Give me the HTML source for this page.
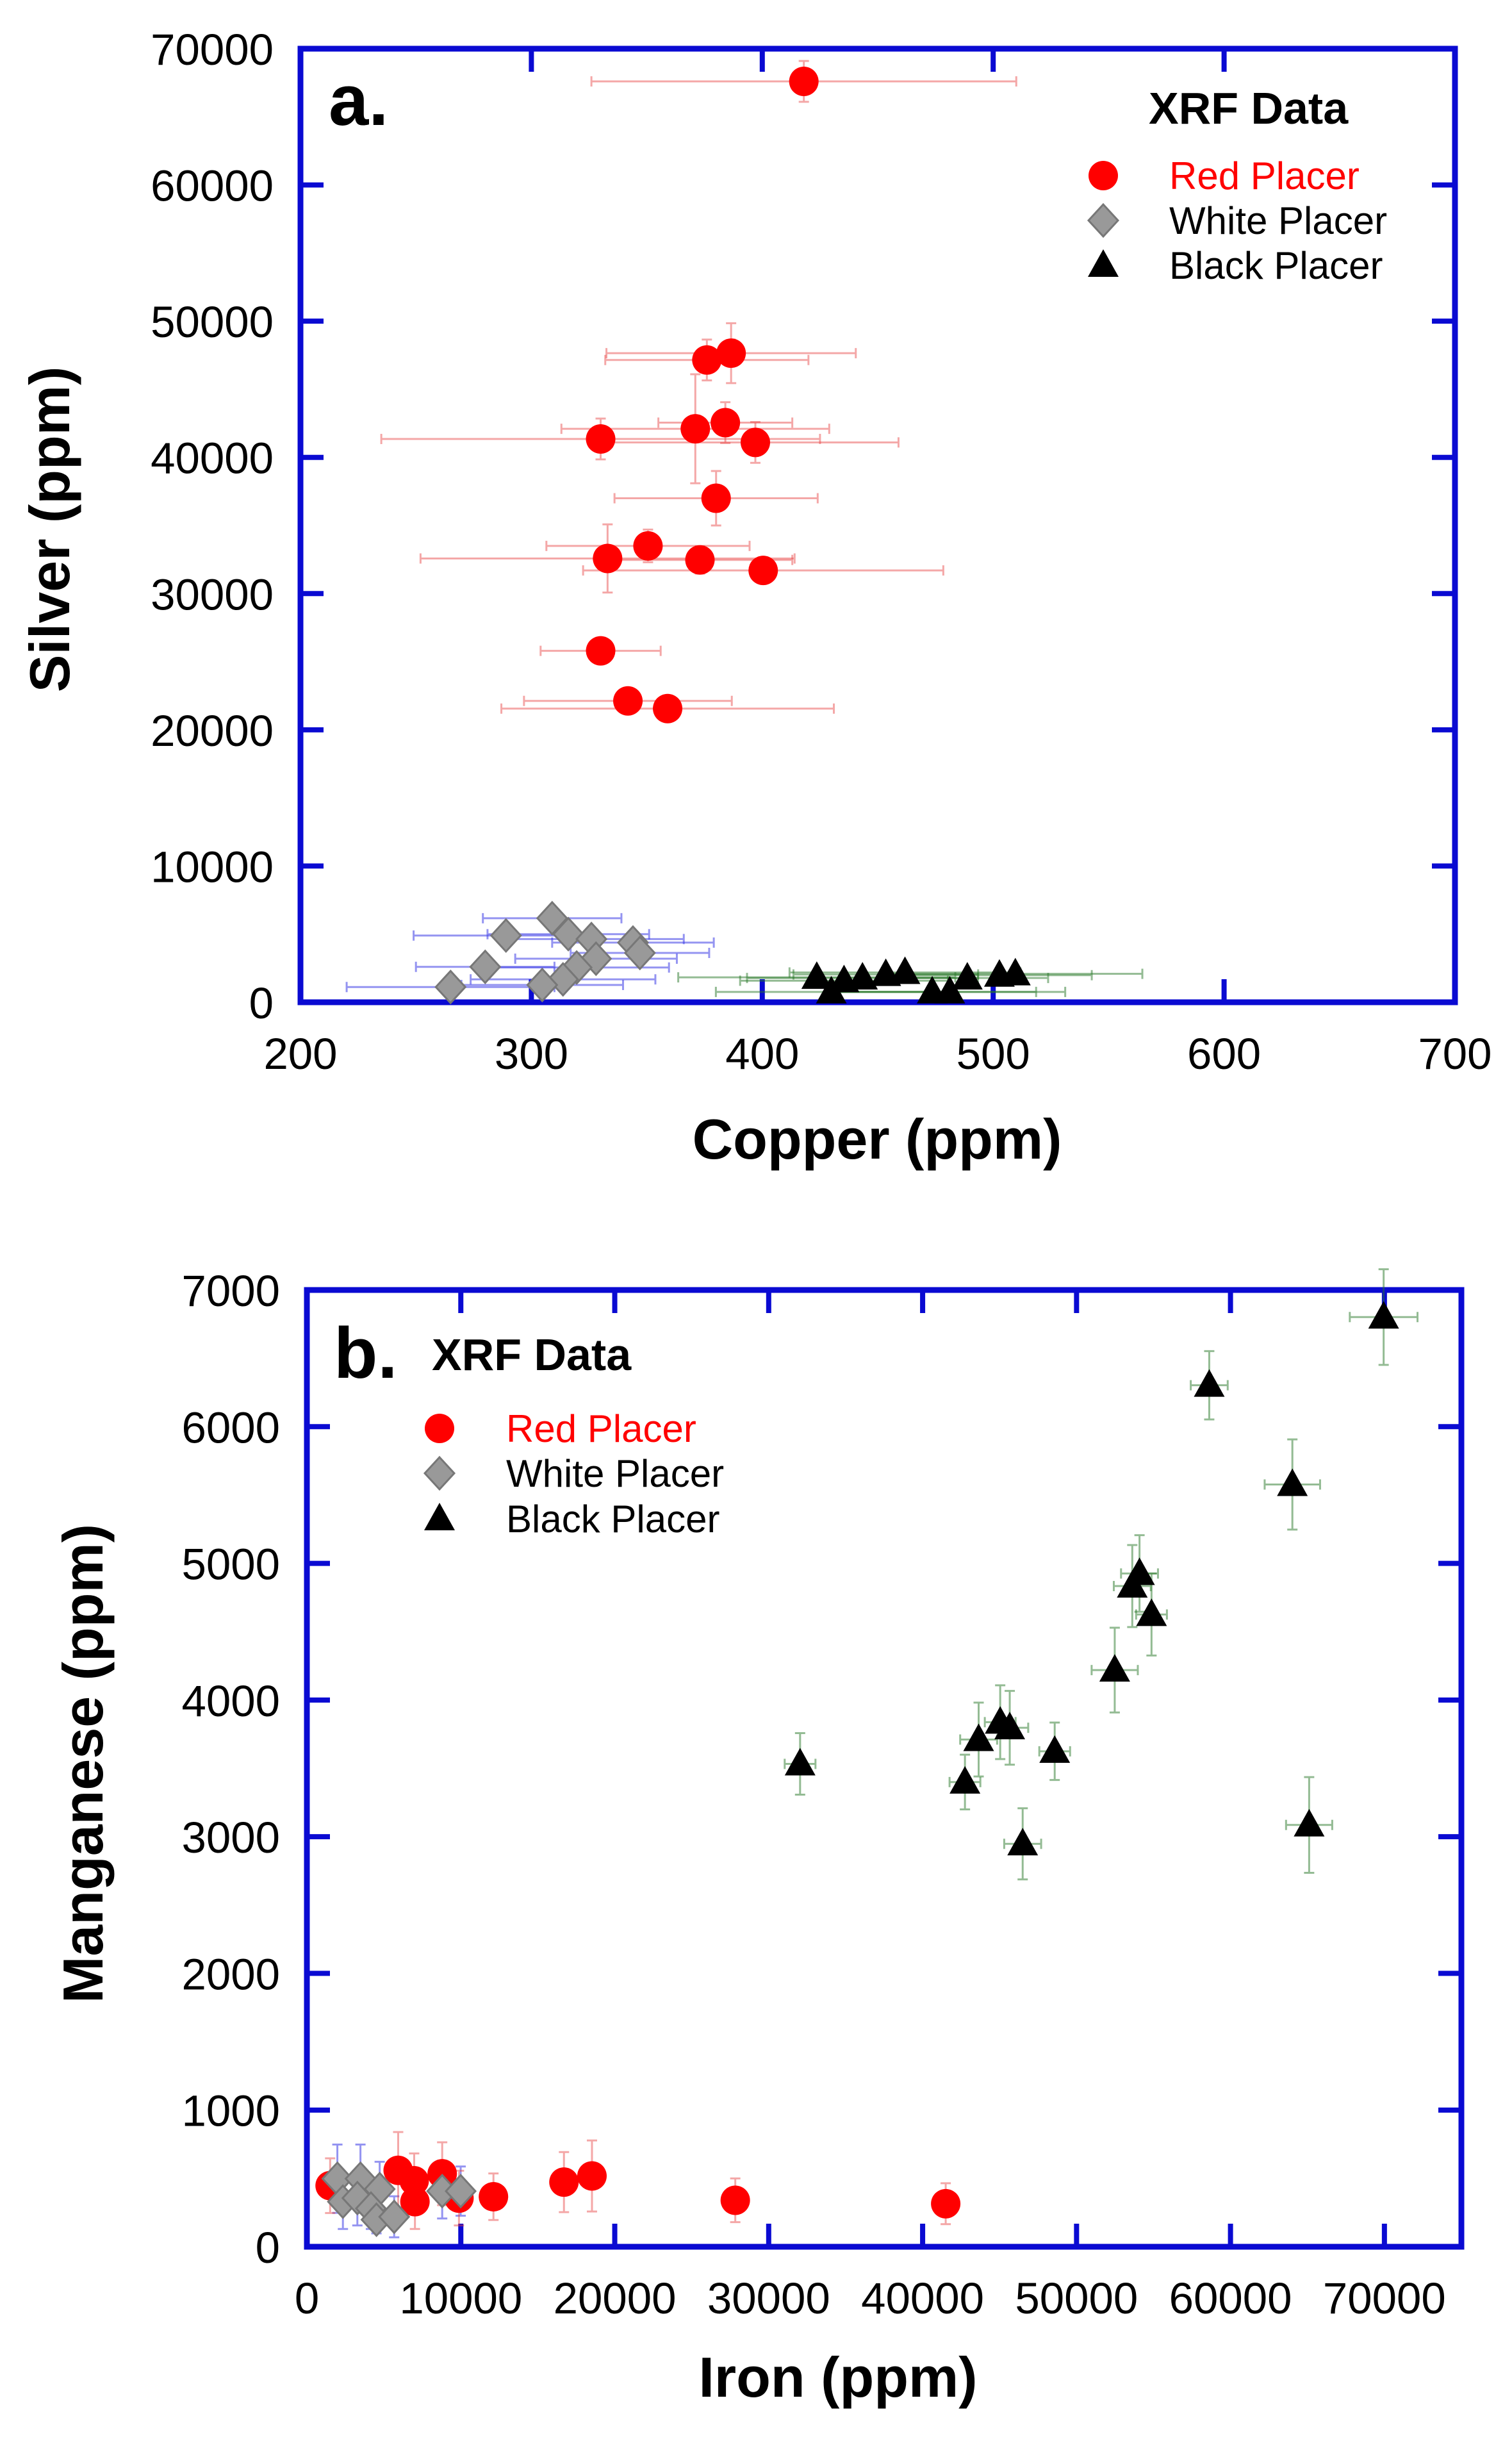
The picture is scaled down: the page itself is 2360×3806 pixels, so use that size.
<!DOCTYPE html>
<html><head><meta charset="utf-8"><style>
html,body{margin:0;padding:0;background:#fff;}
svg{display:block;font-family:"Liberation Sans",sans-serif;}
</style></head><body>
<svg id="fig" width="2360" height="3806" viewBox="0 0 2360 3806" xmlns="http://www.w3.org/2000/svg">
<g id="pa"></g>
<g id="pb"></g>
</svg>
<script>
// Panel a data: copper (x), silver (y)
const aRedCu=[418,376,386.5,371,384,330,397,380,350.5,333,373,400.4,330,341.8,359];
const aRedAg=[67600,47150,47650,42100,42550,41350,41100,37000,33500,32580,32470,31700,25800,22120,21560];
const aRedXe=[92,44,54,58,29,95,62,44,44,81,40,78,26,45,72];
const aRedYe=[1500,1500,2200,4000,1500,1500,1500,2000,1200,2500,1000,800,600,600,600];
const aWhtCu=[309,289,316,326,344,347,328,319.6,280,313.7,304.7,265];
const aWhtAg=[6170,4900,5000,4640,4380,3620,3200,2550,2600,1680,1270,1120];
const aWhtXe=[30,40,35,40,35,30,35,40,30,40,35,45];
const aBlkCu=[423.6,435.4,443.4,453.5,461.8,488.8,502.7,509.6,429.9,473.6,481.2];
const aBlkAg=[1830,1580,1780,2040,2190,1780,1990,2090,760,760,760];
const aBlkXe=[60,45,50,40,50,35,40,55,50,45,50];
const aXTicks=[200,300,400,500,600,700];
const aYTicks=[0,10000,20000,30000,40000,50000,60000,70000];
// Panel b data: iron (x), manganese (y)
const bBlkFe=[32040,42750,43640,45040,45660,46500,48580,52480,53620,54090,54870,58620,64020,65110,69950];
const bBlkMn=[3533,3400,3711,3838,3797,2948,3625,4219,4834,4926,4626,6303,5577,3086,6802];
const bBlkYe=[225,200,270,270,270,260,210,310,300,280,300,250,330,350,350];
const bBlkXe=[1000,1000,1200,1000,1200,1200,1000,1500,1200,1200,1000,1200,1800,1500,2200];
const bRedFe=[1510,5930,6970,7020,8790,9880,12120,16700,18520,27830,41500];
const bRedMn=[447,559,483,330,534,356,366,473,518,340,315];
const bRedYe=[200,280,200,200,230,200,170,220,260,160,150];
const bWhtFe=[1980,2340,3480,3280,4730,4160,4520,5670,8790,9990];
const bWhtMn=[498,330,498,356,422,280,198,219,407,407];
const bWhtYe=[250,200,250,200,200,150,100,150,200,180];
const bXTicks=[0,10000,20000,30000,40000,50000,60000,70000];
const bYTicks=[0,1000,2000,3000,4000,5000,6000,7000];

const NS="http://www.w3.org/2000/svg";
function mk(parent,tag,attrs,text){const e=document.createElementNS(NS,tag);for(const k in attrs)e.setAttribute(k,attrs[k]);if(text!==undefined)e.textContent=text;parent.appendChild(e);return e;}

const A={L:469,R:2271,T:76,B:1564,x0:200,x1:700,y0:0,y1:70000};
const Bp={L:479,R:2281,T:2013,B:3506,x0:0,x1:75000,y0:0,y1:7000};
function sx(P,v){return P.L+(v-P.x0)/(P.x1-P.x0)*(P.R-P.L);}
function sy(P,v){return P.B-(v-P.y0)/(P.y1-P.y0)*(P.B-P.T);}
const BLUE="#0a0ad2";

function axes(g,P,xt,yt,xlabY,xtitle,ytitle,ytx,yty,xtx,xty){
  const frame=mk(g,'rect',{x:P.L,y:P.T,width:P.R-P.L,height:P.B-P.T,fill:'none',stroke:BLUE,'stroke-width':9});
  
  
  xt.forEach(v=>{const x=sx(P,v);
    const t1=mk(g,'line',{x1:x,x2:x,y1:P.B,y2:P.B-36,stroke:BLUE,'stroke-width':8});
    
    
    const t2=mk(g,'line',{x1:x,x2:x,y1:P.T,y2:P.T+36,stroke:BLUE,'stroke-width':8});
    
    
    const lb=mk(g,'text',{x:x,y:xlabY,'font-size':69,'text-anchor':'middle',fill:'#000'},String(v));
    
    
  });
  yt.forEach(v=>{const y=sy(P,v);
    const t1=mk(g,'line',{x1:P.L,x2:P.L+36,y1:y,y2:y,stroke:BLUE,'stroke-width':8});
    
    
    const t2=mk(g,'line',{x1:P.R,x2:P.R-36,y1:y,y2:y,stroke:BLUE,'stroke-width':8});
    
    
    const lb=mk(g,'text',{x:P.L-42,y:y+25,'font-size':69,'text-anchor':'end',fill:'#000'},String(v));
    
    
  });
  const xtl=mk(g,'text',{x:xtx,y:xty,'font-size':88,'font-weight':'bold','text-anchor':'middle'},xtitle);
  
  
  const ytl=mk(g,'text',{x:0,y:0,'font-size':88,'font-weight':'bold','text-anchor':'middle',transform:`translate(${ytx},${yty}) rotate(-90)`},ytitle);
  
  
}
function errX(g,P,x,y,e,col){const c=8;
  const l=mk(g,'path',{d:`M${sx(P,x-e)},${sy(P,y)}H${sx(P,x+e)}M${sx(P,x-e)},${sy(P,y)-c}v${2*c}M${sx(P,x+e)},${sy(P,y)-c}v${2*c}`,stroke:col,'stroke-width':3,fill:'none'});
  
  }
function errY(g,P,x,y,e,col){const c=8;
  const l=mk(g,'path',{d:`M${sx(P,x)},${sy(P,y-e)}V${sy(P,y+e)}M${sx(P,x)-c},${sy(P,y-e)}h${2*c}M${sx(P,x)-c},${sy(P,y+e)}h${2*c}`,stroke:col,'stroke-width':3,fill:'none'});
  
  }
function circ(g,cx,cy,name){const e=mk(g,'circle',{cx:cx,cy:cy,r:23,fill:'#ff0000'});
  
  return e;}
function dia(g,cx,cy,name){const e=mk(g,'path',{d:`M${cx},${cy-25}L${cx+23},${cy}L${cx},${cy+25}L${cx-23},${cy}Z`,fill:'#999',stroke:'#777','stroke-width':3});
  
  return e;}
function tri(g,cx,cy,name){const e=mk(g,'path',{d:`M${cx},${cy-25}L${cx+24},${cy+18}L${cx-24},${cy+18}Z`,fill:'#000'});
  
  return e;}
function legend(g,mx,tx,ys,fs){
  circ(g,mx,ys[0],'legend-red-marker');
  dia(g,mx,ys[1],'legend-white-marker');
  tri(g,mx,ys[2],'legend-black-marker');
  const t1=mk(g,'text',{x:tx,y:ys[0]+21,'font-size':fs,fill:'#ff0000'},'Red Placer');
  
  
  const t2=mk(g,'text',{x:tx,y:ys[1]+21,'font-size':fs,fill:'#000'},'White Placer');
  
  
  const t3=mk(g,'text',{x:tx,y:ys[2]+21,'font-size':fs,fill:'#000'},'Black Placer');
  
  
}

// Panel a
const ga=document.getElementById('pa');
axes(ga,A,aXTicks,aYTicks,1668,'Copper (ppm)','Silver (ppm)',108,826,1369,1808);
aWhtCu.forEach((v,i)=>errX(ga,A,v,aWhtAg[i],aWhtXe[i],'rgba(60,60,230,0.55)'));
aBlkCu.forEach((v,i)=>errX(ga,A,v,aBlkAg[i],aBlkXe[i],'rgba(40,120,40,0.5)'));
aRedCu.forEach((v,i)=>{errX(ga,A,v,aRedAg[i],aRedXe[i],'rgba(230,60,60,0.45)');errY(ga,A,v,aRedAg[i],aRedYe[i],'rgba(230,60,60,0.45)');});
aRedCu.forEach((v,i)=>circ(ga,sx(A,v),sy(A,aRedAg[i]),'red-placer-point'));
aWhtCu.forEach((v,i)=>dia(ga,sx(A,v),sy(A,aWhtAg[i]),'white-placer-point'));
aBlkCu.forEach((v,i)=>tri(ga,sx(A,v),sy(A,aBlkAg[i]),'black-placer-point'));
const la=mk(ga,'text',{x:513,y:195,'font-size':112,'font-weight':'bold'},'a.');


const xa=mk(ga,'text',{x:1793,y:193,'font-size':70,'font-weight':'bold'},'XRF Data');


legend(ga,1722,1825,[274,344,414],60);

// Panel b
const gb=document.getElementById('pb');
axes(gb,Bp,bXTicks,bYTicks,3610,'Iron (ppm)','Manganese (ppm)',160,2752,1308,3740);
bWhtFe.forEach((v,i)=>errY(gb,Bp,v,bWhtMn[i],bWhtYe[i],'rgba(60,60,230,0.55)'));
bRedFe.forEach((v,i)=>errY(gb,Bp,v,bRedMn[i],bRedYe[i],'rgba(230,60,60,0.45)'));
bBlkFe.forEach((v,i)=>{errX(gb,Bp,v,bBlkMn[i],bBlkXe[i],'rgba(40,120,40,0.5)');errY(gb,Bp,v,bBlkMn[i],bBlkYe[i],'rgba(40,120,40,0.5)');});
bRedFe.forEach((v,i)=>circ(gb,sx(Bp,v),sy(Bp,bRedMn[i]),'red-placer-point'));
bWhtFe.forEach((v,i)=>dia(gb,sx(Bp,v),sy(Bp,bWhtMn[i]),'white-placer-point'));
bBlkFe.forEach((v,i)=>tri(gb,sx(Bp,v),sy(Bp,bBlkMn[i]),'black-placer-point'));
const lbb=mk(gb,'text',{x:521,y:2150,'font-size':112,'font-weight':'bold'},'b.');


const xb=mk(gb,'text',{x:674,y:2138,'font-size':70,'font-weight':'bold'},'XRF Data');


legend(gb,686,790,[2229,2299,2370],60);
</script>
</body></html>
